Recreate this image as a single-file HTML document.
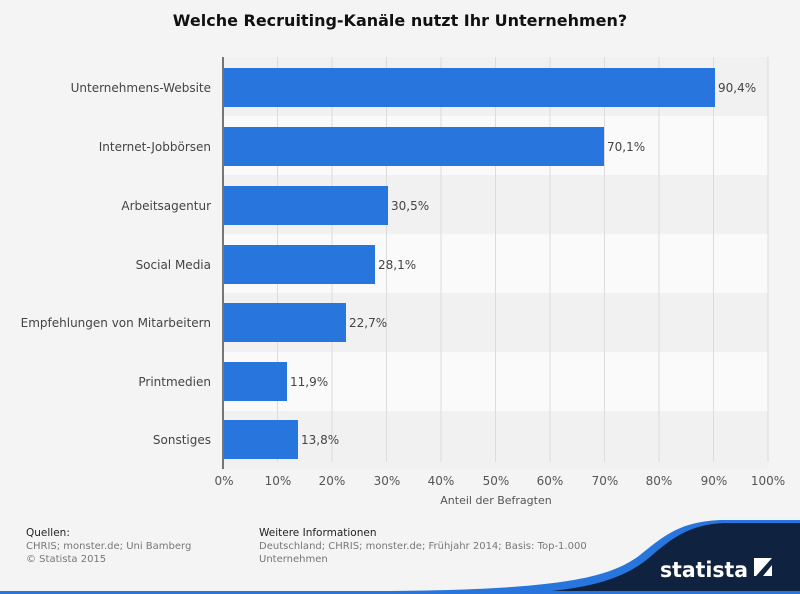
<!DOCTYPE html><html><head><meta charset="utf-8"><style>body{margin:0;background:#f4f4f4}svg{display:block}text{font-family:"DejaVu Sans","Liberation Sans",sans-serif}</style></head><body>
<svg width="800" height="594" viewBox="0 0 800 594">
<rect width="800" height="594" fill="#f4f4f4"/>
<text x="400" y="26" text-anchor="middle" font-size="16" font-weight="bold" fill="#111">Welche Recruiting-Kanäle nutzt Ihr Unternehmen?</text>
<g>
<rect x="223" y="57" width="545" height="59" fill="#f1f1f1"/>
<rect x="223" y="116" width="545" height="59" fill="#fafafa"/>
<rect x="223" y="175" width="545" height="59" fill="#f1f1f1"/>
<rect x="223" y="234" width="545" height="59" fill="#fafafa"/>
<rect x="223" y="293" width="545" height="59" fill="#f1f1f1"/>
<rect x="223" y="352" width="545" height="59" fill="#fafafa"/>
<rect x="223" y="411" width="545" height="59" fill="#f1f1f1"/>
</g>
<g stroke="#dcdcdc" stroke-width="1">
<line x1="277.5" y1="57" x2="277.5" y2="462"/><line x1="332" y1="57" x2="332" y2="462"/><line x1="386.5" y1="57" x2="386.5" y2="462"/><line x1="441" y1="57" x2="441" y2="462"/><line x1="495.5" y1="57" x2="495.5" y2="462"/><line x1="550" y1="57" x2="550" y2="462"/><line x1="604.5" y1="57" x2="604.5" y2="462"/><line x1="659" y1="57" x2="659" y2="462"/><line x1="713.5" y1="57" x2="713.5" y2="462"/><line x1="768" y1="57" x2="768" y2="462"/>
</g>
<g fill="#2876dd">
<rect x="224" y="68" width="491" height="39"/>
<rect x="224" y="127" width="380" height="39"/>
<rect x="224" y="186" width="164" height="39"/>
<rect x="224" y="245" width="151" height="39"/>
<rect x="224" y="303" width="122" height="39"/>
<rect x="224" y="362" width="63" height="39"/>
<rect x="224" y="420" width="74" height="39"/>
</g>
<line x1="223" y1="57" x2="223" y2="469" stroke="#222" stroke-width="1.2"/>
<g font-size="12" fill="#444">
<text x="718" y="92">90,4%</text><text x="607" y="151">70,1%</text><text x="391" y="210">30,5%</text><text x="378" y="269">28,1%</text><text x="349" y="327">22,7%</text><text x="290" y="386">11,9%</text><text x="301" y="444">13,8%</text>
</g>
<g font-size="12" fill="#444" text-anchor="end">
<text x="211" y="92">Unternehmens-Website</text><text x="211" y="151">Internet-Jobbörsen</text><text x="211" y="210">Arbeitsagentur</text><text x="211" y="269">Social Media</text><text x="211" y="327">Empfehlungen von Mitarbeitern</text><text x="211" y="386">Printmedien</text><text x="211" y="444">Sonstiges</text>
</g>
<g font-size="12" fill="#555" text-anchor="middle">
<text x="224" y="485">0%</text><text x="278" y="485">10%</text><text x="332" y="485">20%</text><text x="387" y="485">30%</text><text x="441" y="485">40%</text><text x="496" y="485">50%</text><text x="550" y="485">60%</text><text x="605" y="485">70%</text><text x="659" y="485">80%</text><text x="714" y="485">90%</text><text x="768" y="485">100%</text>
<text x="496" y="504" font-size="11">Anteil der Befragten</text>
</g>
<g font-size="10.5">
<text x="26" y="536" fill="#222">Quellen:</text>
<text x="26" y="549" fill="#777" font-size="10">CHRIS; monster.de; Uni Bamberg</text>
<text x="26" y="562" fill="#777" font-size="10">© Statista 2015</text>
<text x="259" y="536" fill="#222">Weitere Informationen</text>
<text x="259" y="549" fill="#777" font-size="10">Deutschland; CHRIS; monster.de; Frühjahr 2014; Basis: Top-1.000</text>
<text x="259" y="562" fill="#777" font-size="10">Unternehmen</text>
</g>
<path d="M380 594 L380 591 C560 590 610 578 640 555 C665 535 680 522 720 520 L800 520 L800 594 Z" fill="#2876dd"/>
<path d="M500 594 C590 592 625 578 650 557 C672 538 690 524 725 523 L800 523 L800 594 Z" fill="#0f2340"/>
<rect x="0" y="591" width="800" height="3" fill="#2876dd"/>
<text x="660" y="577" font-size="21" font-weight="bold" fill="#fff" font-family="Liberation Sans Narrow,Liberation Sans,sans-serif" textLength="88" lengthAdjust="spacingAndGlyphs">statista</text>
<rect x="754" y="558" width="18" height="18" fill="#fff"/>
<path d="M756 576 L772 558 L772 565 L763 576 Z" fill="#0f2340"/>
</svg></body></html>
